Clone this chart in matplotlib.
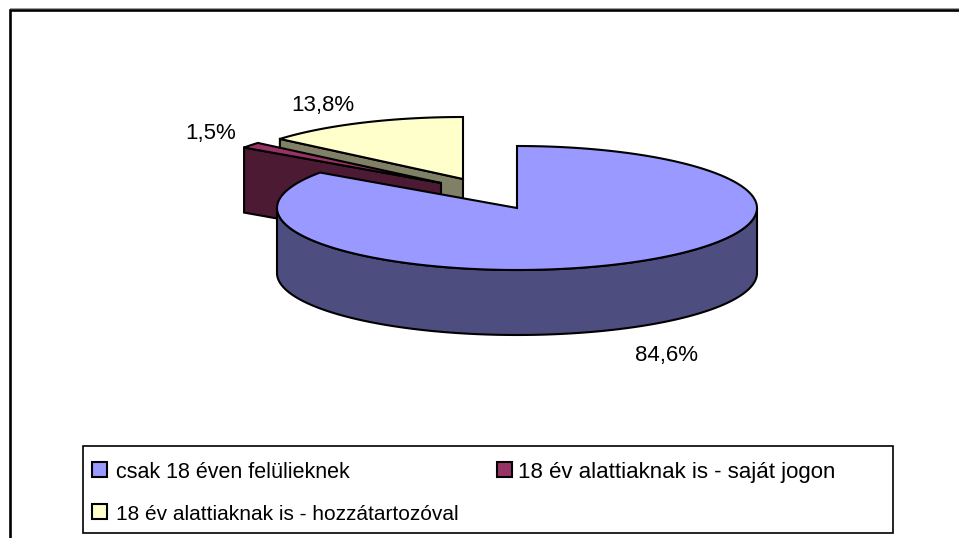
import numpy as np
import matplotlib
matplotlib.use("Agg")
import matplotlib.pyplot as plt
from matplotlib.patches import Polygon, Rectangle

plt.rcParams['font.family'] = ['Liberation Sans', 'DejaVu Sans']

labels = ["csak 18 éven felülieknek", "18 év alattiaknak is - saját jogon", "18 év alattiaknak is - hozzátartozóval"]
values = [84.6, 1.5, 13.8]
value_labels = ["84,6%", "1,5%", "13,8%"]

top_colors = ["#9999FF", "#993366", "#FFFFCC"]
side_colors = ["#4D4D80", "#4D1A33", "#808066"]

# pie geometry, in pixels
cx, cy = 517, 208
rx, ry = 240, 62
depth = 65
explode = [(0, 0), (-76, -25), (-54, -29)]
label_pos = [(666, 361), (211, 139), (323, 111)]

def edge(theta, ox, oy, dz=0):
    # theta is clockwise from 12 o'clock
    return np.column_stack([cx + ox + rx * np.sin(theta), cy + oy - ry * np.cos(theta) + dz])

fig = plt.figure(figsize=(9.59, 5.38), dpi=100)
ax = fig.add_axes([0, 0, 1, 1])
ax.set_xlim(0, 959)
ax.set_ylim(538, 0)
ax.axis("off")

# chart frame: only top and left are in the picture
ax.plot([9.5, 9.5, 965], [545, 9.5, 9.5], color="black", lw=1.9, solid_joinstyle="miter")
ax.plot([9.5, 965], [8, 8], color="#999999", lw=0.7)

fracs = np.array(values) / sum(values)
ends = np.cumsum(fracs) * 2 * np.pi
starts = ends - fracs * 2 * np.pi

# back slices first, the big one sits in front
for i in [2, 1, 0]:
    ox, oy = explode[i]
    theta = np.linspace(starts[i], ends[i], 200)
    apex = np.array([[cx + ox, cy + oy]])
    if i == 0:
        # outer wall of the front half
        front = np.linspace(np.pi / 2, 3 * np.pi / 2, 200)
        top = edge(front, ox, oy)
        bottom = edge(front, ox, oy, depth)
        ax.add_patch(Polygon(np.vstack([top, bottom[::-1]]), closed=True, fc=side_colors[i], ec="black", lw=1.5))
    else:
        # cut face along the start edge
        p = edge(starts[i:i + 1], ox, oy)
        face = np.vstack([apex, p, p + [0, depth], apex + [0, depth]])
        ax.add_patch(Polygon(face, closed=True, fc=side_colors[i], ec="black", lw=1.5))
    ax.add_patch(Polygon(np.vstack([apex, edge(theta, ox, oy)]), closed=True, fc=top_colors[i], ec="black", lw=1.5, joinstyle="miter"))
    ax.text(label_pos[i][0], label_pos[i][1], value_labels[i], fontsize=16, color="black", ha="center", va="baseline")

# legend box
ax.add_patch(Rectangle((83, 446), 810, 87, fc="white", ec="black", lw=1.2))
legend_pos = [(92, 469), (497, 469), (92, 511)]
text_x = [116, 518, 116]
text_y = [478, 478, 520]
text_size = [15.5, 16, 15]
for i in range(3):
    x, y = legend_pos[i]
    ax.add_patch(Rectangle((x, y - 7.5), 14.5, 15, fc=top_colors[i], ec="black", lw=1.5))
    ax.text(text_x[i], text_y[i], labels[i], fontsize=text_size[i], color="black", ha="left", va="baseline")

fig.savefig("out.png", dpi=100)
